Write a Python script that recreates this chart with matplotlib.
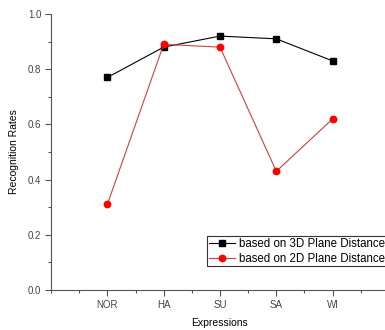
import matplotlib
matplotlib.use("Agg")
import matplotlib.pyplot as plt
from matplotlib.ticker import MultipleLocator

categories = ["NOR", "HA", "SU", "SA", "WI"]
rates_3d = [0.77, 0.88, 0.92, 0.91, 0.83]
rates_2d = [0.31, 0.89, 0.88, 0.43, 0.62]

plt.rcParams['font.family'] = ['Liberation Sans', 'DejaVu Sans']

fig = plt.figure(figsize=(3.85, 3.30), dpi=100)
ax = fig.add_axes([51/385, 1-290/330, 338/385, 276/330])

x = list(range(1, len(categories) + 1))
ax.plot(x, rates_3d, color='black', lw=0.8, marker='s', ms=4.3, mfc='black', mec='black',
        label='based on 3D Plane Distance')
ax.plot(x, rates_2d, color='#d04040', lw=0.8, marker='o', ms=4.6, mfc='red', mec='red',
        label='based on 2D Plane Distance')

ax.set_xlim(0, 6)
ax.set_ylim(0, 1.0)
ax.set_xticks(x)
ax.set_xticklabels(categories)
ax.xaxis.set_minor_locator(MultipleLocator(0.5))
ax.yaxis.set_major_locator(MultipleLocator(0.2))
ax.yaxis.set_minor_locator(MultipleLocator(0.1))
ax.yaxis.set_major_formatter(matplotlib.ticker.FormatStrFormatter('%.1f'))

for s in ['top', 'right']:
    ax.spines[s].set_visible(False)
for s in ['left', 'bottom']:
    ax.spines[s].set_color('#555555')
    ax.spines[s].set_linewidth(0.8)

ax.tick_params(which='major', direction='out', length=4, width=0.8, color='#555555',
               labelsize=7, labelcolor='#444444', pad=3)
ax.tick_params(which='minor', direction='out', length=2, width=0.8, color='#555555')

ax.set_xlabel('Expressions', fontsize=7.5, labelpad=6)
ax.set_ylabel('Recognition Rates', fontsize=7.5, labelpad=6)

leg = ax.legend(loc='upper left', bbox_to_anchor=(207/385, 1-236/330),
                bbox_transform=fig.transFigure, fontsize=8.3, frameon=True, fancybox=False,
                borderpad=0.15, handlelength=2.3, handletextpad=0.35, labelspacing=0.25,
                borderaxespad=0)
leg.get_frame().set_edgecolor('black')
leg.get_frame().set_linewidth(0.8)
leg.set_clip_on(False)

fig.savefig('out.png', dpi=100)
